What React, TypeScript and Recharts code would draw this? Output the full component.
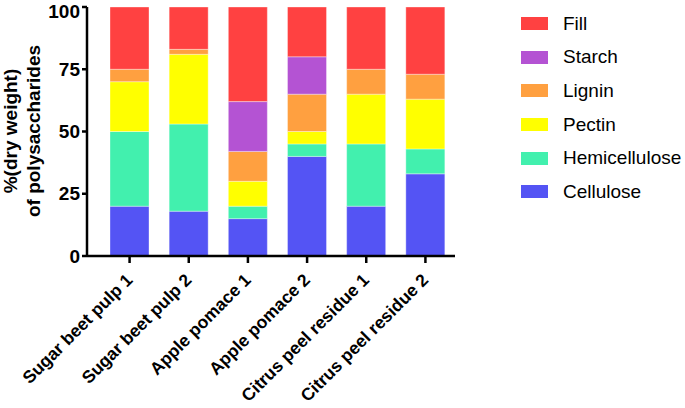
import { Bar, BarChart, XAxis, YAxis } from "recharts"

const samples = [
  "Sugar beet pulp 1",
  "Sugar beet pulp 2",
  "Apple pomace 1",
  "Apple pomace 2",
  "Citrus peel residue 1",
  "Citrus peel residue 2",
]

// each value is the segment height (% of dry weight)
const cellulose = [20, 18, 15, 40, 20, 33]
const hemicellulose = [30, 35, 5, 5, 25, 10]
const pectin = [20, 28, 10, 5, 20, 20]
const lignin = [5, 2, 12, 15, 10, 10]
const starch = [0, 0, 20, 15, 0, 0]
const fill = [25, 17, 38, 20, 25, 27]

const yTicks = [0, 25, 50, 75, 100]

const series = [
  { key: "Cellulose", values: cellulose, color: "#5454f4" },
  { key: "Hemicellulose", values: hemicellulose, color: "#42f0ae" },
  { key: "Pectin", values: pectin, color: "#ffff00" },
  { key: "Lignin", values: lignin, color: "#ffa040" },
  { key: "Starch", values: starch, color: "#b453d3" },
  { key: "Fill", values: fill, color: "#ff4141" },
]

const rows = samples.map((name, i) => {
  const row: any = { name }
  series.forEach((s) => (row[s.key] = s.values[i]))
  return row
})

const font = "'Liberation Sans', Arial, sans-serif"

function AxisTitle() {
  return (
    <g>
      <text transform="translate(17,131) rotate(-90)" textAnchor="middle" fontSize={19} fontWeight="bold" fill="#000" fontFamily={font}>
        %(dry weight)
      </text>
      <text transform="translate(40,131) rotate(-90)" textAnchor="middle" fontSize={19} fontWeight="bold" fill="#000" fontFamily={font}>
        of polysaccharides
      </text>
    </g>
  )
}

function SlantTick(props: any) {
  const { x, y, payload } = props
  return (
    <text
      transform={`translate(${x + 4},${y + 16}) rotate(-45)`}
      textAnchor="end"
      fontSize={17.5}
      fontWeight="bold"
      fill="#000"
      fontFamily={font}
    >
      {payload.value}
    </text>
  )
}

function LegendBox() {
  const items = [...series].reverse()
  return (
    <div style={{ position: "absolute", left: 521, top: 7, fontFamily: font, fontSize: 19, color: "#000" }}>
      {items.map((s) => (
        <div key={s.key} style={{ display: "flex", alignItems: "center", height: 33.6 }}>
          <span style={{ display: "inline-block", width: 27, height: 13, background: s.color, marginRight: 15 }} />
          <span>{s.key}</span>
        </div>
      ))}
    </div>
  )
}

export default function App() {
  return (
    <div style={{ position: "absolute", left: 0, top: 0, width: 685, height: 408, background: "#fff" }}>
      <BarChart width={685} height={408} data={rows} margin={{ top: 7, right: 230, left: 0, bottom: 0 }} barSize={39}>
        <XAxis
          dataKey="name"
          height={152}
          padding={{ left: 13, right: 0 }}
          tick={<SlantTick />}
          tickSize={7}
          interval={0}
          axisLine={{ stroke: "#000", strokeWidth: 2.5 }}
          tickLine={{ stroke: "#000", strokeWidth: 2.5 }}
        />
        <YAxis
          width={87}
          domain={[0, 100]}
          ticks={yTicks}
          tickSize={5}
          tickMargin={2}
          axisLine={{ stroke: "#000", strokeWidth: 2.5 }}
          tickLine={{ stroke: "#000", strokeWidth: 2.5 }}
          tick={{ fill: "#000", fontSize: 19, fontWeight: "bold", fontFamily: font }}
          label={{ content: () => <AxisTitle /> }}
        />
        {series.map((s) => (
          <Bar
            key={s.key}
            dataKey={s.key}
            stackId="a"
            fill={s.color}
            stroke="#ffffff"
            strokeOpacity={0.35}
            strokeWidth={1}
            isAnimationActive={false}
          />
        ))}
      </BarChart>
      <LegendBox />
    </div>
  )
}
